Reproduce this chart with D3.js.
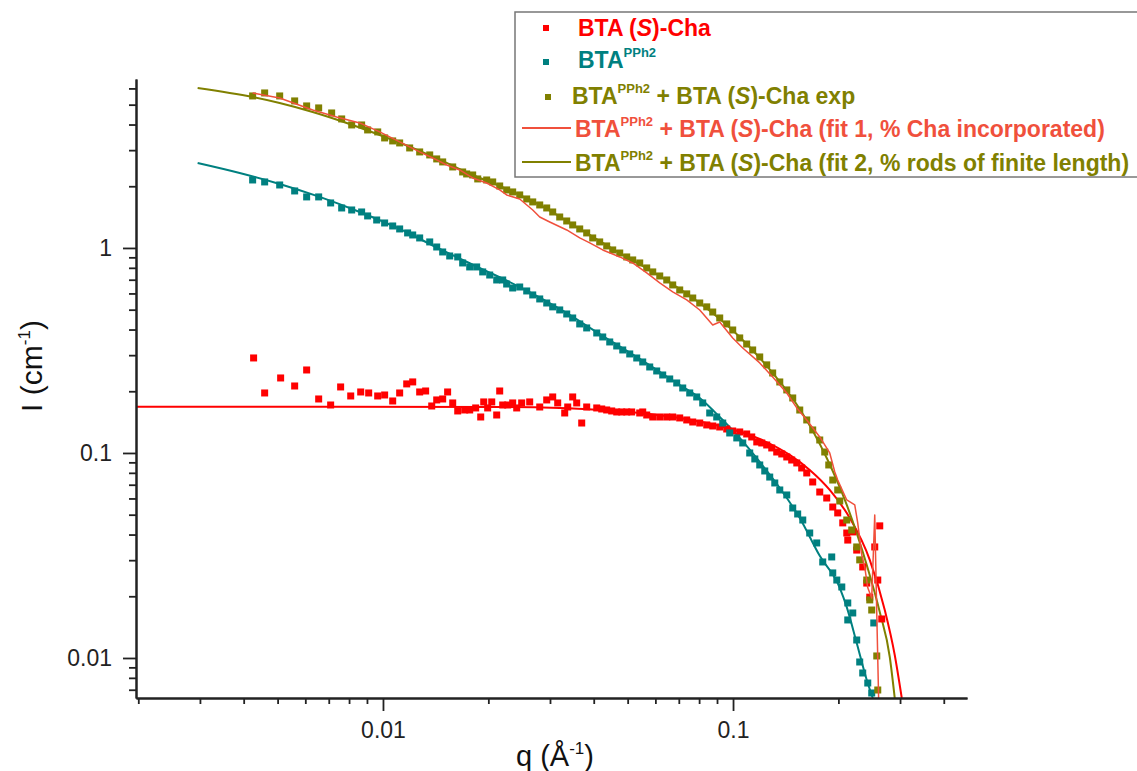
<!DOCTYPE html>
<html><head><meta charset="utf-8">
<script src="https://cdn.jsdelivr.net/npm/d3@7"></script>
<style>
body{margin:0;background:#fff}
svg{display:block}
text{font-family:"Liberation Sans",Arial,sans-serif;white-space:pre}
</style>
</head><body>
<svg id="c" width="1137" height="771"></svg>
<script>
// ---------- data (q in 1/Å, I in 1/cm) ----------
const redQ = [0.00427,0.004592,0.005101,0.005594,0.006053,0.006551,0.007088,0.007569,0.008088,0.008637,0.009103,0.009658,0.01011,0.01066,0.01116,0.01169,0.01216,0.01273,0.01324,0.01378,0.01424,0.01481,0.0153,0.01582,0.01635,0.01712,0.01769,0.0184,0.01902,0.0194,0.01991,0.02045,0.02113,0.02155,0.02198,0.02271,0.02347,0.0241,0.0249,0.02625,0.02804,0.02936,0.03054,0.03156,0.03305,0.03371,0.03483,0.03576,0.03696,0.03819,0.0408,0.04216,0.04356,0.04502,0.04653,0.04808,0.04969,0.05134,0.05413,0.05521,0.05668,0.05897,0.06175,0.06466,0.06725,0.07042,0.07374,0.07672,0.08033,0.08412,0.0875,0.09162,0.09594,0.0998,0.1045,0.1094,0.1131,0.1169,0.1208,0.1248,0.129,0.1333,0.1378,0.1424,0.1471,0.1521,0.1571,0.1624,0.1689,0.1769,0.1852,0.1927,0.1991,0.2058,0.2113,0.2127,0.2198,0.2256,0.2347,0.241,0.2458,0.254,0.2591,0.2625,0.266];
const redI = [0.2907,0.1962,0.2322,0.2122,0.254,0.1834,0.1714,0.2099,0.1897,0.1984,0.1962,0.1897,0.1918,0.1793,0.1962,0.2172,0.2221,0.1984,0.2006,0.1695,0.1814,0.1834,0.1984,0.1754,0.1603,0.1621,0.1621,0.1658,0.1498,0.1774,0.1658,0.1774,0.1532,0.2006,0.1714,0.1714,0.1754,0.1658,0.1754,0.1774,0.1676,0.1814,0.1876,0.1754,0.1567,0.1676,0.1876,0.1754,0.14,0.1676,0.1658,0.1639,0.1621,0.1603,0.1585,0.1585,0.1585,0.1585,0.1567,0.1585,0.1532,0.1498,0.1498,0.1498,0.1498,0.1482,0.1449,0.1416,0.14,0.137,0.1354,0.1339,0.1309,0.128,0.1266,0.1238,0.1197,0.1132,0.1119,0.1094,0.1058,0.1011,0.0989,0.0956,0.0924,0.0894,0.0845,0.0799,0.0722,0.0645,0.0603,0.0545,0.051,0.0456,0.0407,0.0376,0.0412,0.0336,0.0278,0.0232,0.0198,0.0348,0.024,0.0441,0.0155];

const tealQ = [0.004243,0.004592,0.005069,0.005594,0.006053,0.006551,0.007088,0.007621,0.00814,0.00869,0.00904,0.009594,0.01011,0.01066,0.01116,0.01176,0.01216,0.01273,0.0136,0.01424,0.01481,0.01551,0.01635,0.01689,0.01769,0.01852,0.01927,0.02018,0.02113,0.02198,0.02256,0.02347,0.02458,0.02574,0.02678,0.02804,0.02936,0.03054,0.03198,0.03349,0.03483,0.03648,0.03819,0.0408,0.04244,0.04444,0.04653,0.04841,0.05069,0.05308,0.05521,0.05781,0.06053,0.06297,0.06594,0.06904,0.07183,0.07521,0.07875,0.08192,0.08578,0.08982,0.09345,0.09785,0.1025,0.1066,0.1116,0.1154,0.1192,0.1232,0.1273,0.1316,0.136,0.1424,0.1481,0.153,0.1582,0.1656,0.1734,0.1804,0.1914,0.1927,0.1979,0.2045,0.2127,0.2198,0.2127,0.2256,0.2301,0.2347,0.2426,0.249,0.2524];
const tealI = [2.146,2.099,2.029,1.897,1.774,1.774,1.658,1.567,1.532,1.498,1.433,1.369,1.324,1.28,1.238,1.184,1.157,1.119,1.07,1.011,0.956,0.914,0.904,0.845,0.808,0.808,0.764,0.738,0.698,0.698,0.667,0.638,0.645,0.617,0.59,0.564,0.539,0.516,0.4985,0.4764,0.4555,0.426,0.4073,0.3849,0.368,0.3479,0.3326,0.318,0.3041,0.2906,0.2779,0.2627,0.2512,0.2401,0.2296,0.2195,0.2075,0.1962,0.1876,0.1754,0.1567,0.1498,0.14,0.1252,0.1184,0.1119,0.1,0.0935,0.0874,0.0817,0.0763,0.0714,0.066,0.0624,0.0539,0.0504,0.0471,0.0407,0.0364,0.0294,0.0311,0.026,0.024,0.0222,0.01855,0.01658,0.01533,0.01224,0.00956,0.00845,0.00755,0.00675,0.01482];

const oliveQ = [0.004243,0.004592,0.005069,0.005594,0.006053,0.006551,0.007135,0.007621,0.00814,0.00869,0.00904,0.00966,0.01011,0.01066,0.01116,0.01192,0.01273,0.0136,0.01424,0.01481,0.01582,0.01689,0.01734,0.01804,0.01865,0.01978,0.02058,0.02155,0.02256,0.02347,0.02458,0.02574,0.02678,0.02804,0.02936,0.03054,0.03198,0.03349,0.03483,0.03648,0.03819,0.03973,0.0416,0.04356,0.04532,0.04746,0.04969,0.05169,0.05413,0.05668,0.05897,0.06175,0.06466,0.06725,0.07042,0.07374,0.07672,0.08033,0.08412,0.0875,0.09162,0.09594,0.0998,0.1045,0.1094,0.1138,0.1192,0.1248,0.1298,0.136,0.1424,0.1481,0.1551,0.1624,0.1689,0.1769,0.1828,0.1877,0.1927,0.1991,0.2018,0.2113,0.2183,0.2256,0.2301,0.241,0.2458,0.249,0.2574,0.2591];
const oliveI = [5.514,5.703,5.514,5.214,4.929,4.82,4.555,4.259,3.981,3.981,3.764,3.681,3.441,3.327,3.253,3.075,2.94,2.843,2.718,2.628,2.484,2.348,2.296,2.27,2.171,2.146,2.099,2.006,1.919,1.876,1.814,1.734,1.677,1.621,1.567,1.498,1.416,1.354,1.295,1.238,1.184,1.119,1.07,1.023,0.978,0.945,0.904,0.874,0.845,0.799,0.764,0.73,0.698,0.66,0.624,0.597,0.57,0.539,0.516,0.487,0.4555,0.426,0.398,0.364,0.34,0.318,0.294,0.269,0.2456,0.222,0.203,0.1855,0.162,0.1449,0.1295,0.1157,0.1011,0.0874,0.0738,0.066,0.0583,0.0471,0.0421,0.0348,0.0301,0.024,0.0192,0.01714,0.01023,0.00698];

// fitted curves
const redFitQ = [0.0019,0.02155,0.03198,0.0416,0.05413,0.07042,0.09162,0.1192,0.1452,0.1656,0.1889,0.2155,0.2458,0.2713,0.2897,0.3034];
const redFitI = [0.1682,0.1676,0.1658,0.1621,0.1567,0.1482,0.1354,0.117,0.0978,0.0826,0.066,0.0482,0.0301,0.01714,0.01034,0.00638];

const tealFitQ = [0.002955,0.003896,0.005068,0.006595,0.00858,0.01116,0.01452,0.01889,0.02458,0.03198,0.0416,0.05413,0.07042,0.08033,0.09162,0.1045,0.1192,0.136,0.1551,0.1769,0.2018,0.2113,0.2256,0.241,0.2507];
const tealFitI = [2.598,2.322,2.052,1.774,1.498,1.238,0.9888,0.799,0.645,0.5039,0.3805,0.2875,0.2146,0.1855,0.1498,0.1184,0.0904,0.0675,0.0482,0.0315,0.022,0.0177,0.01184,0.00781,0.00638];

const fit1Q = [0.004243,0.005068,0.006298,0.007373,0.00858,0.009785,0.01116,0.01273,0.01387,0.01521,0.01656,0.01804,0.01978,0.02155,0.02256,0.02458,0.02678,0.02804,0.02995,0.03349,0.03648,0.03896,0.04244,0.04746,0.05169,0.05668,0.06175,0.06725,0.07374,0.08033,0.0875,0.09162,0.0998,0.1066,0.1192,0.1298,0.1424,0.1521,0.1624,0.1769,0.1889,0.1953,0.1991,0.2113,0.2227,0.2271,0.2332,0.2378,0.2426,0.249,0.254,0.2574,0.2608];
const fit1I = [5.703,5.392,4.712,4.356,4.072,3.681,3.289,2.94,2.748,2.54,2.402,2.195,2.075,1.919,1.814,1.734,1.532,1.416,1.339,1.224,1.119,1.058,0.978,0.904,0.845,0.7551,0.6749,0.6102,0.5577,0.4983,0.421,0.4356,0.364,0.3252,0.2749,0.2348,0.1962,0.1658,0.1449,0.1197,0.1,0.0808,0.0738,0.059,0.0558,0.0456,0.0318,0.0278,0.022,0.0196,0.0498,0.01658,0.0059];

const fit2Q = [0.002955,0.004243,0.005068,0.006298,0.007876,0.009785,0.01216,0.01521,0.01804,0.02155,0.02804,0.03648,0.04746,0.06175,0.08033,0.1045,0.1298,0.1551,0.1852,0.2113,0.241,0.2625,0.2804,0.2897];
const fit2I = [6.033,5.453,5.097,4.607,4.072,3.558,3.075,2.598,2.27,2.006,1.621,1.238,0.945,0.73,0.539,0.368,0.2456,0.1639,0.0945,0.0558,0.0284,0.01677,0.01011,0.00638];

const xMajorTicks = [0.01, 0.1];
const yMajorTicks = [0.01, 0.1, 1];
const xTitle = "q (Å^{-1})";
const yTitle = "I (cm^{-1})";
const legendLabels = [
  "BTA (*S*)-Cha",
  "BTA^{PPh2}",
  "BTA^{PPh2} + BTA (*S*)-Cha exp",
  "BTA^{PPh2} + BTA (*S*)-Cha (fit 1, % Cha incorporated)",
  "BTA^{PPh2} + BTA (*S*)-Cha (fit 2, % rods of finite length)"
];

// ---------- styles ----------
const C = {red:"#ff0000", teal:"#008080", olive:"#808000", coral:"#f0503c", axis:"#222"};

const svg = d3.select("#c");
const x = d3.scaleLog().domain([0.00197, 0.466]).range([136, 967]);
const y = d3.scaleLog().domain([0.00638, 6.67]).range([698, 79]);

const isMajor = d => Math.abs(Math.log10(d) - Math.round(Math.log10(d))) < 1e-6;

svg.append("clipPath").attr("id","plotclip").append("rect")
  .attr("x",136).attr("y",79).attr("width",831).attr("height",619);

const zip = (a,b) => a.map((v,i)=>[v,b[i]]);
const plot = svg.append("g").attr("clip-path","url(#plotclip)");

const smooth = d3.line().x(d=>x(d[0])).y(d=>y(d[1])).curve(d3.curveMonotoneX);
const straight = d3.line().x(d=>x(d[0])).y(d=>y(d[1]));

function drawLine(qs, is, color, w, gen){
  plot.append("path").datum(zip(qs,is)).attr("d",gen)
    .attr("fill","none").attr("stroke",color).attr("stroke-width",w)
    .attr("stroke-linejoin","round");
}
function drawPoints(qs, is, color){
  const s = 7;
  plot.append("g").selectAll("rect").data(zip(qs,is)).join("rect")
    .attr("x",d=>x(d[0])-s/2).attr("y",d=>y(d[1])-s/2)
    .attr("width",s).attr("height",s).attr("fill",color);
}

drawLine(redFitQ, redFitI, C.red, 2, smooth);
drawLine(tealFitQ, tealFitI, C.teal, 2, smooth);
drawLine(fit2Q, fit2I, C.olive, 2, smooth);
drawPoints(redQ, redI, C.red);
drawPoints(tealQ, tealI, C.teal);
drawPoints(oliveQ, oliveI, C.olive);
drawLine(fit1Q, fit1I, C.coral, 1.5, straight);

// ---------- axes ----------
function styleAxis(g){
  g.select(".domain").attr("stroke",C.axis).attr("stroke-width",2);
  g.selectAll(".tick line").attr("stroke",C.axis).attr("stroke-width",1.8);
  g.selectAll("text").attr("fill",C.axis).attr("font-size",23);
}
const xMinor = x.ticks().filter(d=>!isMajor(d));
const yMinor = y.ticks().filter(d=>!isMajor(d));

svg.append("g").attr("transform","translate(0,698)")
  .call(d3.axisBottom(x).tickValues(xMinor).tickSize(6).tickSizeOuter(0).tickFormat(""))
  .call(styleAxis);
svg.append("g").attr("transform","translate(0,698)")
  .call(d3.axisBottom(x).tickValues(xMajorTicks).tickSize(13).tickSizeOuter(0).tickPadding(11).tickFormat(d=>String(d)))
  .call(styleAxis);
svg.append("g").attr("transform","translate(136,0)")
  .call(d3.axisLeft(y).tickValues(yMinor).tickSize(7).tickSizeOuter(0).tickFormat(""))
  .call(styleAxis);
svg.append("g").attr("transform","translate(136,0)")
  .call(d3.axisLeft(y).tickValues(yMajorTicks).tickSize(13).tickSizeOuter(0).tickPadding(11).tickFormat(d=>String(d)))
  .call(styleAxis);

// rich text helper: ^{sup} and *italic*
function rich(textSel, str, supSize, supShift){
  const parts = str.split(/(\^\{[^}]*\}|\*[^*]*\*)/).filter(s=>s.length);
  let raised = false;
  parts.forEach(p=>{
    if (p.startsWith("^{")){
      textSel.append("tspan").attr("font-size",supSize).attr("dy",-supShift).text(p.slice(2,-1));
      raised = true;
    } else {
      const t = textSel.append("tspan");
      if (raised){ t.attr("dy",supShift); raised=false; }
      if (p.startsWith("*")) t.attr("font-style","italic").text(p.slice(1,-1));
      else t.text(p);
    }
  });
}

// axis titles
const yt = svg.append("text").attr("transform","translate(42,366) rotate(-90)")
  .attr("text-anchor","middle").attr("font-size",30).attr("fill","#111");
rich(yt, yTitle, 17, 12);
const xt = svg.append("text").attr("x",555).attr("y",766)
  .attr("text-anchor","middle").attr("font-size",29).attr("fill","#111");
rich(xt, xTitle, 17, 12);

// ---------- legend ----------
const lg = svg.append("g");
lg.append("rect").attr("x",515).attr("y",12).attr("width",640).attr("height",165)
  .attr("fill","#fff").attr("stroke","#777").attr("stroke-width",1.5);
const legendColors = [C.red, C.teal, C.olive, C.coral, C.olive];
const legendKinds = ["pt","pt","pt","ln","ln"];
const legendBase = [36, 68, 104, 137, 171];
const legendMarkY = [28, 62, 97, 128, 162];
const legendTextX = [578, 578, 572, 575, 575];
legendLabels.forEach((lab,i)=>{
  if (legendKinds[i]==="pt"){
    lg.append("rect").attr("x",(i===2?548:546)-3).attr("y",legendMarkY[i]-3)
      .attr("width",6).attr("height",6).attr("fill",legendColors[i]);
  } else {
    lg.append("line").attr("x1",522).attr("x2",571).attr("y1",legendMarkY[i]).attr("y2",legendMarkY[i])
      .attr("stroke",legendColors[i]).attr("stroke-width",1.8);
  }
  const t = lg.append("text").attr("x",legendTextX[i]).attr("y",legendBase[i])
    .attr("font-size",23).attr("font-weight","bold").attr("fill",legendColors[i]);
  rich(t, lab, 13, 11);
});
</script>
</body></html>
